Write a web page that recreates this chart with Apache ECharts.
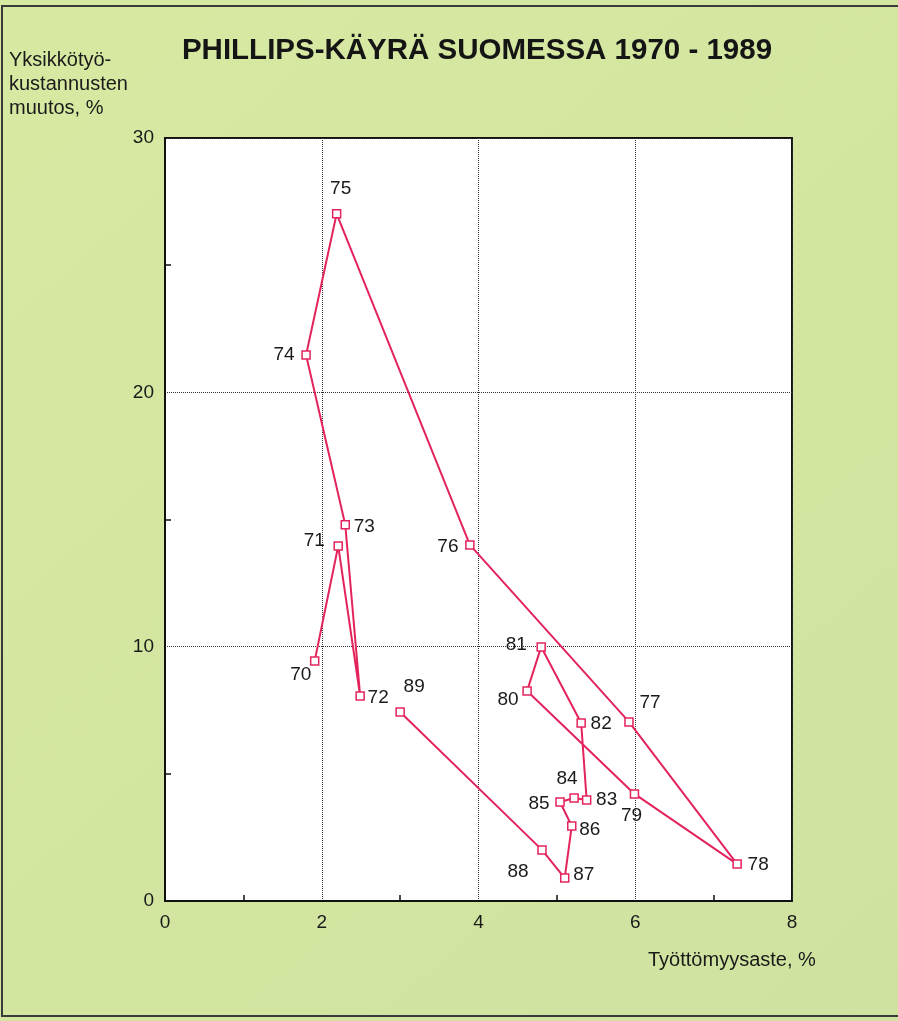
<!DOCTYPE html>
<html>
<head>
<meta charset="utf-8">
<script src="https://cdn.jsdelivr.net/npm/echarts@6/dist/echarts.min.js"></script>
<style>
  html, body { margin: 0; padding: 0; }
  #chart { width: 898px; height: 1021px; }
</style>
</head>
<body>
<div id="chart"></div>
<script>
// vuodet ja arvot luettu kuvasta
const years = ['70', '71', '72', '73', '74', '75', '76', '77', '78', '79',
  '80', '81', '82', '83', '84', '85', '86', '87', '88', '89']
const unemployment = [1.91, 2.21, 2.49, 2.30, 1.80, 2.19, 3.89, 5.92, 7.30, 5.99,
  4.62, 4.80, 5.31, 5.38, 5.22, 5.04, 5.19, 5.10, 4.81, 3.00]
const unitLabourCost = [9.44, 13.96, 8.06, 14.79, 21.47, 27.02, 14.00, 7.04, 1.45, 4.21,
  8.26, 9.99, 7.00, 3.97, 4.05, 3.89, 2.95, 0.90, 2.01, 7.43]
const xTicks = [0, 2, 4, 6, 8]
const yTicks = [0, 10, 20, 30]

// vuosilukujen paikat suhteessa pisteeseen (px)
const labelOffsets = [
  [-14, 14], [-24, -5], [18, 2], [19, 2], [-22, 0], [4, -25], [-22, 2], [21, -19], [21, 1], [-3, 22],
  [-19, 9], [-25, -2], [20, 1], [20, 0], [-7, -19], [-21, 2], [18, 4], [19, -3], [-24, 22], [14, -25]
]

const red = '#e3245c'
const font = '"Liberation Sans", Arial, Helvetica, sans-serif'

const chart = echarts.init(document.getElementById('chart'))

chart.setOption({
  backgroundColor: {
    type: 'linear', x: 0, y: 0, x2: 1, y2: 1,
    colorStops: [
      { offset: 0, color: '#d7e9a1' },
      { offset: 1, color: '#cfe2a0' }
    ]
  },
  textStyle: { fontFamily: font },
  animation: false,
  title: {
    text: 'PHILLIPS-KÄYRÄ SUOMESSA 1970 - 1989',
    left: 472,
    top: 31,
    textAlign: 'center',
    textStyle: { fontSize: 29.5, fontWeight: 'bold', color: '#151515', fontFamily: font }
  },
  graphic: [
    {
      type: 'rect',
      shape: { x: 2, y: 6, width: 920, height: 1010 },
      style: { fill: null, stroke: '#3a3a3a', lineWidth: 2 },
      silent: true
    },
    {
      type: 'text',
      left: 9,
      top: 48,
      style: {
        text: 'Yksikkötyö-\nkustannusten\nmuutos, %',
        font: '20px ' + font,
        fill: '#1a1a1a',
        lineHeight: 24
      }
    },
    {
      type: 'text',
      left: 648,
      top: 950,
      style: {
        text: 'Työttömyysaste, %',
        font: '20px ' + font,
        fill: '#1a1a1a'
      }
    }
  ],
  grid: {
    left: 165,
    right: 106,
    top: 138,
    bottom: 120,
    show: true,
    backgroundColor: '#ffffff',
    borderColor: '#111',
    borderWidth: 2
  },
  xAxis: {
    type: 'value',
    min: xTicks[0],
    max: xTicks[xTicks.length - 1],
    interval: 2,
    axisLine: { show: true, lineStyle: { color: '#111', width: 2 } },
    axisTick: { show: false, inside: true },
    minorTick: { show: true, splitNumber: 2, length: 6, lineStyle: { color: '#111', width: 1.5 } },
    axisLabel: { color: '#1a1a1a', fontSize: 19, margin: 12, fontFamily: font },
    splitLine: { show: true, lineStyle: { color: '#333', type: 'dotted', width: 1 } }
  },
  yAxis: {
    type: 'value',
    min: yTicks[0],
    max: yTicks[yTicks.length - 1],
    interval: 10,
    axisLine: { show: true, lineStyle: { color: '#111', width: 2 } },
    axisTick: { show: false, inside: true },
    minorTick: { show: true, splitNumber: 2, length: 6, lineStyle: { color: '#111', width: 1.5 } },
    axisLabel: { color: '#1a1a1a', fontSize: 19, margin: 11, fontFamily: font },
    splitLine: { show: true, lineStyle: { color: '#333', type: 'dotted', width: 1 } }
  },
  series: [
    {
      type: 'line',
      data: unemployment.map((x, i) => ({
        value: [x, unitLabourCost[i]],
        name: years[i],
        label: { offset: labelOffsets[i] }
      })),
      symbol: 'rect',
      symbolSize: 8,
      itemStyle: { color: '#fff', borderColor: red, borderWidth: 1.5 },
      lineStyle: { color: red, width: 2 },
      label: {
        show: true,
        position: 'inside',
        formatter: p => p.name,
        color: '#1a1a1a',
        fontSize: 19,
        fontFamily: font
      },
      z: 5
    }
  ]
})
</script>
</body>
</html>
